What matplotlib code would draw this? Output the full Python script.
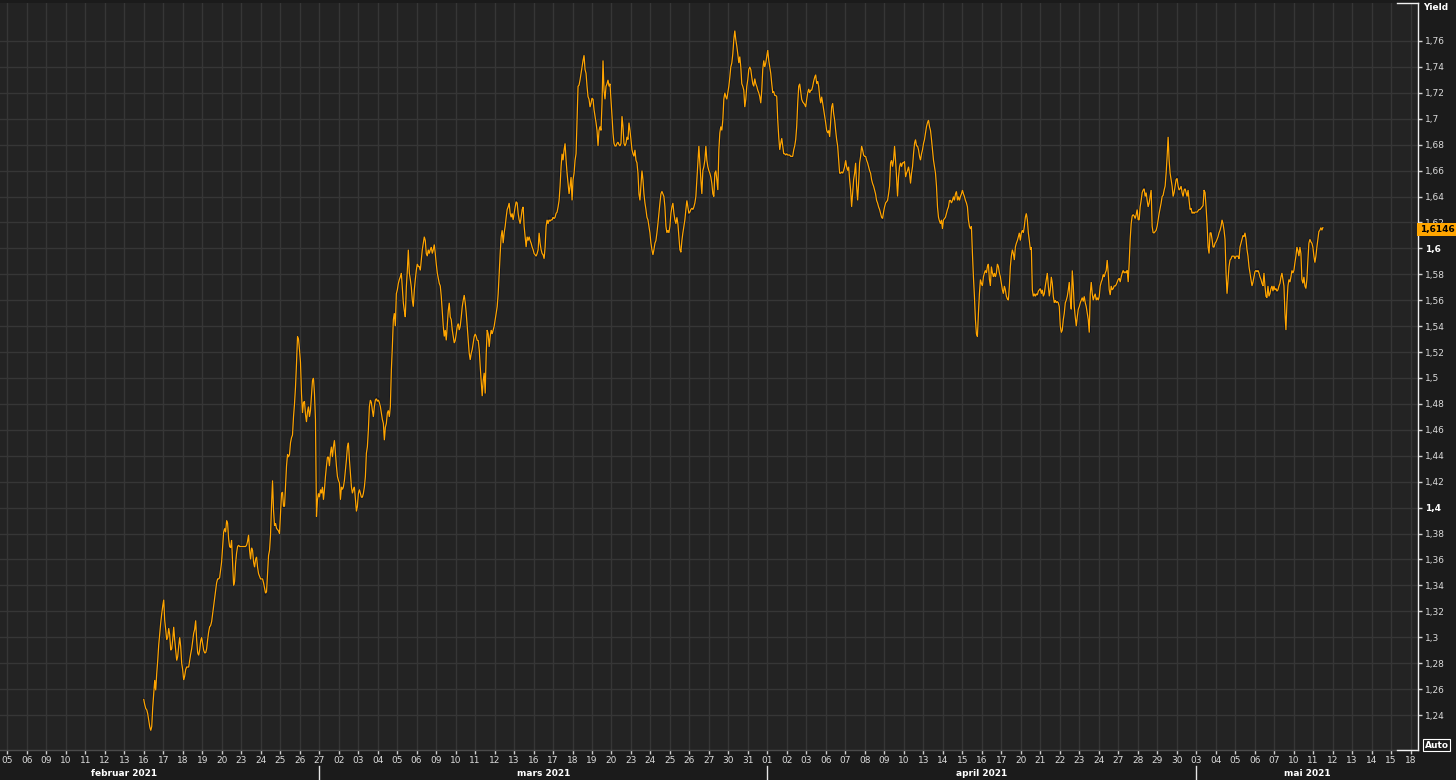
import numpy as np
import matplotlib
matplotlib.use("Agg")
from matplotlib import pyplot as plt
from matplotlib import patheffects as pe

# trading days shown on the x axis
day_labels = ["05", "06", "09", "10", "11", "12", "13", "16", "17", "18", "19", "20", "23", "24", "25", "26", "27",
              "02", "03", "04", "05", "06", "09", "10", "11", "12", "13", "16", "17", "18", "19", "20", "23", "24",
              "25", "26", "27", "30", "31",
              "01", "02", "03", "06", "07", "08", "09", "10", "13", "14", "15", "16", "17", "20", "21", "22", "23",
              "24", "27", "28", "29", "30",
              "03", "04", "05", "06", "07", "10", "11", "12", "13", "14", "15", "18"]
month_names = ["februar 2021", "mars 2021", "april 2021", "mai 2021"]
month_first_day = [16, 39, 61]          # index of the label where a new month starts
month_centres = [6.0, 27.5, 50.0, 66.7]

y_ticks = [1.24, 1.26, 1.28, 1.30, 1.32, 1.34, 1.36, 1.38, 1.40, 1.42, 1.44, 1.46, 1.48, 1.50,
           1.52, 1.54, 1.56, 1.58, 1.60, 1.62, 1.64, 1.66, 1.68, 1.70, 1.72, 1.74, 1.76]

# intraday yield, evenly sampled from 16 feb (day 7) to 11 mai (day 67.5)
start_day = 7.0
end_day = 67.5
yield_feb = [
    1.252, 1.248, 1.245, 1.244, 1.241, 1.236, 1.231, 1.228, 1.231, 1.246,
    1.257, 1.267, 1.259, 1.272, 1.282, 1.294, 1.303, 1.311, 1.318, 1.324,
    1.329, 1.313, 1.306, 1.298, 1.300, 1.307, 1.302, 1.290, 1.291, 1.298,
    1.308, 1.298, 1.290, 1.282, 1.285, 1.293, 1.300, 1.293, 1.280, 1.275,
    1.267, 1.270, 1.275, 1.277, 1.277, 1.277, 1.282, 1.287, 1.291, 1.297,
    1.303, 1.306, 1.313, 1.298, 1.288, 1.286, 1.290, 1.297, 1.300, 1.295,
    1.290, 1.288, 1.288, 1.291, 1.298, 1.304, 1.308, 1.309, 1.312, 1.318,
    1.324, 1.330, 1.336, 1.342, 1.345, 1.345, 1.346, 1.352, 1.358, 1.370,
    1.381, 1.384, 1.381, 1.390, 1.388, 1.376, 1.370, 1.369, 1.375, 1.357,
    1.340, 1.343, 1.357, 1.365, 1.370, 1.371, 1.370, 1.370, 1.370, 1.370,
    1.370, 1.370, 1.370, 1.371, 1.374, 1.379, 1.367, 1.360, 1.369, 1.367,
    1.358, 1.354, 1.360, 1.362, 1.354, 1.349, 1.347, 1.345, 1.345, 1.345,
    1.342, 1.338, 1.334, 1.335, 1.349, 1.363, 1.367, 1.379, 1.402, 1.421,
    1.398, 1.386, 1.388, 1.384, 1.383, 1.382, 1.380, 1.396, 1.411, 1.412,
    1.401, 1.401, 1.416, 1.432, 1.441, 1.439, 1.441, 1.450, 1.454, 1.456,
    1.470, 1.480, 1.493, 1.511, 1.532, 1.530, 1.522, 1.512, 1.488, 1.473,
    1.481, 1.482, 1.472, 1.466, 1.474, 1.478, 1.470, 1.475, 1.487, 1.498,
    1.500, 1.488, 1.468, 1.393, 1.406, 1.411, 1.408, 1.414, 1.411, 1.416,
    1.406, 1.414, 1.424, 1.432, 1.439, 1.439, 1.432, 1.442, 1.447, 1.439,
    1.447, 1.452, 1.442, 1.432, 1.424, 1.421, 1.419, 1.406, 1.416, 1.414,
    1.416, 1.421, 1.429, 1.437, 1.447, 1.450, 1.437, 1.426, 1.416, 1.411,
    1.414, 1.416, 1.406, 1.397, 1.401, 1.411, 1.414, 1.411, 1.408, 1.408,
    1.411, 1.416, 1.424, 1.442, 1.447, 1.460, 1.478, 1.483, 1.481, 1.475,
    1.470, 1.478, 1.483, 1.484, 1.482, 1.483, 1.481, 1.478, 1.473, 1.468,
    1.465, 1.452, 1.462, 1.465, 1.473, 1.475, 1.470, 1.478, 1.506, 1.524,
    1.545, 1.550, 1.540, 1.565, 1.568, 1.573, 1.576, 1.578, 1.581, 1.570,
    1.558, 1.552, 1.547, 1.570, 1.583, 1.599, 1.581, 1.576, 1.570, 1.560,
    1.555, 1.568, 1.576, 1.583, 1.588, 1.586, 1.586, 1.583, 1.591, 1.599,
    1.604, 1.609, 1.606, 1.596, 1.594, 1.599, 1.596, 1.599, 1.601, 1.596,
    1.599, 1.603, 1.596, 1.588, 1.581, 1.577, 1.573,
]
yield_mar = [
    1.571, 1.563, 1.552, 1.540, 1.532, 1.537, 1.529, 1.540, 1.552, 1.558,
    1.547, 1.545, 1.537, 1.532, 1.527, 1.529, 1.534, 1.540, 1.542, 1.537,
    1.540, 1.547, 1.555, 1.560, 1.564, 1.558, 1.550, 1.540, 1.529, 1.519,
    1.514, 1.519, 1.522, 1.527, 1.532, 1.534, 1.532, 1.529, 1.529, 1.522,
    1.509, 1.498, 1.486, 1.498, 1.504, 1.488, 1.519, 1.537, 1.534, 1.524,
    1.532, 1.537, 1.534, 1.537, 1.540, 1.545, 1.550, 1.555, 1.565, 1.581,
    1.596, 1.609, 1.614, 1.604, 1.612, 1.617, 1.624, 1.630, 1.632, 1.635,
    1.627, 1.624, 1.627, 1.622, 1.627, 1.632, 1.636, 1.635, 1.627, 1.622,
    1.619, 1.624, 1.630, 1.632, 1.617, 1.609, 1.601, 1.609, 1.606, 1.609,
    1.606, 1.604, 1.601, 1.599, 1.596, 1.595, 1.594, 1.596, 1.599, 1.612,
    1.604, 1.599, 1.596, 1.595, 1.592, 1.601, 1.617, 1.622, 1.619, 1.622,
    1.621, 1.622, 1.622, 1.624, 1.623, 1.624, 1.627, 1.628, 1.632, 1.637,
    1.648, 1.663, 1.673, 1.668, 1.676, 1.681, 1.668, 1.658, 1.650, 1.642,
    1.648, 1.655, 1.637, 1.653, 1.658, 1.668, 1.673, 1.699, 1.725, 1.726,
    1.730, 1.735, 1.740, 1.745, 1.749, 1.738, 1.735, 1.725, 1.717, 1.715,
    1.709, 1.712, 1.716, 1.715, 1.707, 1.702, 1.697, 1.691, 1.679, 1.691,
    1.694, 1.691, 1.712, 1.745, 1.722, 1.715, 1.725, 1.727, 1.730, 1.725,
    1.727, 1.715, 1.702, 1.689, 1.681, 1.679, 1.679, 1.681, 1.682, 1.680,
    1.679, 1.681, 1.702, 1.694, 1.681, 1.679, 1.681, 1.686, 1.684, 1.697,
    1.691, 1.684, 1.676, 1.673, 1.671, 1.676, 1.668, 1.666, 1.658, 1.642,
    1.637, 1.648, 1.660, 1.653, 1.642, 1.635, 1.630, 1.624, 1.622, 1.617,
    1.612, 1.604, 1.599, 1.595, 1.599, 1.604, 1.606, 1.612, 1.619, 1.627,
    1.635, 1.642, 1.644, 1.642, 1.640, 1.632, 1.617, 1.612, 1.614, 1.612,
    1.617, 1.627, 1.632, 1.635, 1.627, 1.622, 1.619, 1.624, 1.619, 1.609,
    1.599, 1.597, 1.606, 1.612, 1.617, 1.622, 1.630, 1.637, 1.632, 1.627,
    1.628, 1.630, 1.631, 1.630, 1.632, 1.635, 1.640, 1.653, 1.666, 1.679,
    1.666, 1.653, 1.642, 1.660, 1.663, 1.668, 1.679, 1.668, 1.663, 1.660,
    1.658, 1.655, 1.650, 1.642, 1.640, 1.658, 1.660, 1.653, 1.645, 1.676,
    1.689, 1.694, 1.691, 1.699, 1.715, 1.720, 1.717, 1.715, 1.720, 1.725,
    1.732, 1.740, 1.743, 1.750, 1.761, 1.768, 1.761, 1.756, 1.750, 1.743,
    1.748, 1.740, 1.727, 1.725, 1.722, 1.709, 1.715, 1.725, 1.730, 1.738,
    1.740, 1.738, 1.732, 1.727, 1.725, 1.731, 1.727, 1.725, 1.722, 1.720,
    1.717,
]
yield_apr = [
    1.712, 1.722, 1.738, 1.745, 1.740, 1.743, 1.748, 1.753, 1.745, 1.740,
    1.735, 1.727, 1.720, 1.721, 1.718, 1.718, 1.717, 1.699, 1.686, 1.676,
    1.681, 1.685, 1.679, 1.673, 1.673, 1.672, 1.673, 1.672, 1.672, 1.672,
    1.671, 1.671, 1.671, 1.676, 1.679, 1.684, 1.694, 1.712, 1.725, 1.727,
    1.721, 1.715, 1.713, 1.712, 1.711, 1.709, 1.715, 1.720, 1.723, 1.720,
    1.722, 1.722, 1.725, 1.729, 1.732, 1.734, 1.727, 1.729, 1.725, 1.717,
    1.712, 1.717, 1.712, 1.707, 1.702, 1.697, 1.691, 1.689, 1.691, 1.686,
    1.697, 1.709, 1.712, 1.704, 1.699, 1.691, 1.684, 1.679, 1.668, 1.658,
    1.658, 1.659, 1.658, 1.660, 1.663, 1.668, 1.663, 1.660, 1.663, 1.653,
    1.645, 1.632, 1.642, 1.653, 1.658, 1.666, 1.648, 1.637, 1.650, 1.666,
    1.671, 1.679, 1.676, 1.672, 1.671, 1.671, 1.668, 1.666, 1.663, 1.660,
    1.658, 1.653, 1.650, 1.648, 1.645, 1.642, 1.637, 1.635, 1.632, 1.630,
    1.627, 1.624, 1.623, 1.628, 1.632, 1.635, 1.636, 1.637, 1.642, 1.648,
    1.666, 1.668, 1.663, 1.668, 1.679, 1.668, 1.655, 1.640, 1.655, 1.663,
    1.666, 1.663, 1.666, 1.666, 1.667, 1.655, 1.658, 1.660, 1.663, 1.658,
    1.650, 1.658, 1.663, 1.673, 1.681, 1.684, 1.679, 1.679, 1.676, 1.671,
    1.668, 1.673, 1.676, 1.681, 1.684, 1.689, 1.694, 1.697, 1.699, 1.694,
    1.691, 1.684, 1.676, 1.668, 1.663, 1.658, 1.648, 1.632, 1.624, 1.621,
    1.619, 1.622, 1.615, 1.622, 1.623, 1.624, 1.627, 1.630, 1.632, 1.637,
    1.637, 1.635, 1.637, 1.640, 1.637, 1.642, 1.644, 1.637, 1.640, 1.637,
    1.640, 1.642, 1.645, 1.642, 1.640, 1.637, 1.635, 1.632, 1.622, 1.617,
    1.615, 1.617, 1.596, 1.578, 1.563, 1.545, 1.534, 1.532, 1.550, 1.565,
    1.576, 1.573, 1.571, 1.578, 1.581, 1.583, 1.581, 1.586, 1.588, 1.576,
    1.571, 1.586, 1.581, 1.578, 1.581, 1.578, 1.581, 1.588, 1.586, 1.581,
    1.578, 1.573, 1.568, 1.565, 1.571, 1.568, 1.563, 1.561, 1.560, 1.571,
    1.586, 1.594, 1.599, 1.596, 1.591, 1.601, 1.604, 1.606, 1.609, 1.612,
    1.606, 1.612, 1.614, 1.612, 1.617, 1.624, 1.627, 1.622, 1.612, 1.606,
    1.599, 1.601, 1.568, 1.563, 1.565, 1.563, 1.565, 1.564, 1.567, 1.568,
    1.569, 1.565, 1.568, 1.563, 1.565, 1.571, 1.576, 1.581, 1.571, 1.563,
    1.568, 1.578, 1.573, 1.563, 1.558, 1.560, 1.558, 1.559, 1.558,
]
yield_may = [
    1.555, 1.540, 1.535, 1.537, 1.545, 1.550, 1.558, 1.560, 1.563, 1.568,
    1.574, 1.560, 1.553, 1.583, 1.571, 1.555, 1.547, 1.540, 1.547, 1.553,
    1.555, 1.558, 1.560, 1.562, 1.559, 1.563, 1.558, 1.555, 1.550, 1.545,
    1.535, 1.565, 1.574, 1.565, 1.560, 1.563, 1.565, 1.560, 1.562, 1.560,
    1.563, 1.571, 1.574, 1.576, 1.580, 1.578, 1.581, 1.583, 1.591, 1.581,
    1.568, 1.564, 1.571, 1.568, 1.569, 1.571, 1.571, 1.572, 1.574, 1.576,
    1.577, 1.574, 1.578, 1.581, 1.583, 1.581, 1.582, 1.581, 1.583, 1.574,
    1.589, 1.607, 1.619, 1.625, 1.626, 1.625, 1.623, 1.626, 1.630, 1.622,
    1.622, 1.632, 1.637, 1.643, 1.645, 1.646, 1.640, 1.643, 1.637, 1.632,
    1.635, 1.640, 1.645, 1.617, 1.612, 1.612, 1.613, 1.614, 1.617, 1.622,
    1.627, 1.631, 1.635, 1.640, 1.641, 1.645, 1.648, 1.658, 1.671, 1.686,
    1.668, 1.658, 1.653, 1.648, 1.640, 1.643, 1.648, 1.653, 1.654, 1.648,
    1.645, 1.646, 1.648, 1.643, 1.640, 1.645, 1.646, 1.643, 1.640, 1.645,
    1.637, 1.630, 1.631, 1.627, 1.628, 1.627, 1.628, 1.628, 1.628, 1.629,
    1.630, 1.630, 1.631, 1.632, 1.633, 1.645, 1.643, 1.632, 1.619, 1.601,
    1.596, 1.612, 1.612, 1.607, 1.601, 1.601, 1.604, 1.605, 1.607, 1.609,
    1.612, 1.614, 1.617, 1.622, 1.619, 1.614, 1.607, 1.581, 1.565, 1.576,
    1.586, 1.591, 1.592, 1.594, 1.594, 1.594, 1.592, 1.594, 1.594, 1.594,
    1.592, 1.601, 1.604, 1.607, 1.610, 1.609, 1.612, 1.607, 1.599, 1.594,
    1.586, 1.581, 1.576, 1.571, 1.574, 1.578, 1.582, 1.583, 1.582, 1.583,
    1.581, 1.578, 1.576, 1.573, 1.571, 1.581, 1.571, 1.563, 1.562, 1.571,
    1.563, 1.565, 1.569, 1.571, 1.567, 1.571, 1.568, 1.569, 1.567, 1.568,
    1.571, 1.573, 1.578, 1.581, 1.576, 1.571, 1.550, 1.537, 1.558, 1.571,
    1.576, 1.574, 1.578, 1.583, 1.581, 1.583, 1.589, 1.594, 1.601, 1.598,
    1.594, 1.601, 1.596, 1.576, 1.573, 1.578, 1.571, 1.569, 1.576, 1.591,
    1.604, 1.607, 1.605, 1.604, 1.601, 1.594, 1.589, 1.594, 1.601, 1.607,
    1.613, 1.614, 1.616, 1.614, 1.616,
]
last_value = 1.6146

yield_pct = np.array(yield_feb + yield_mar + yield_apr + yield_may)
days = np.linspace(start_day, end_day, len(yield_pct))

W, H = 1456, 780
bg_outer = "#1b1b1b"
bg_plot = "#232323"
grid_col = "#363636"
text_col = "#dcdcdc"
orange = "#ffa500"

fig = plt.figure(figsize=(W / 100, H / 100), dpi=100, facecolor=bg_outer)
ax = fig.add_axes([0, 30 / H, 1417.5 / W, 747 / H], facecolor=bg_plot)

ax.plot(days, yield_pct, color=orange, lw=0.9, solid_joinstyle="miter",
        path_effects=[pe.Stroke(linewidth=1.9, foreground="#0c1120", alpha=0.8), pe.Normal()], zorder=3)

ax.set_xlim(-0.375, 72.355)
ax.set_ylim(1.2130, 1.7893)

# x axis: one tick per trading day
ax.set_xticks(range(len(day_labels)))
ax.set_xticklabels(day_labels, fontsize=6.5, color=text_col)
ax.tick_params(axis="x", direction="out", length=3, width=1, color="#cfcfcf", pad=1.5)

# y axis on the right, comma decimals
ax.yaxis.tick_right()
ax.set_yticks(y_ticks)
ax.set_yticklabels([f"{v:.2f}".rstrip("0").rstrip(".").replace(".", ",") for v in y_ticks],
                   fontsize=6.5, color=text_col)
ax.tick_params(axis="y", direction="out", length=3, width=1, color="#cfcfcf", pad=2.5)
for v, lab in zip(y_ticks, ax.get_yticklabels()):
    if round(v * 100) % 20 == 0:
        lab.set_fontweight("bold")
        lab.set_color("white")

ax.grid(True, color=grid_col, lw=1)
ax.set_axisbelow(True)

ax.spines["left"].set_visible(False)
ax.spines["top"].set_visible(False)
ax.spines["right"].set_color("#f0f0f0")
ax.spines["bottom"].set_color("#4a4a4a")
for s in ax.spines.values():
    s.set_linewidth(1)

# short white caps at both ends of the price axis
yt = ax.get_yaxis_transform()
for yy in [0.0, 1.0]:
    ax.plot([0.9855, 1.0], [yy, yy], color="#f0f0f0", lw=1, transform=ax.transAxes, clip_on=False, zorder=4)

# month separators and names under the day labels
xt = ax.get_xaxis_transform()
for d in month_first_day:
    ax.plot([d, d], [-0.0214, -0.045], color="#e6e6e6", lw=1, transform=xt, clip_on=False)
for c, name in zip(month_centres, month_names):
    ax.text(c, -0.0308, name, transform=xt, ha="center", va="center",
            fontsize=6.5, fontweight="bold", color="white")

# last value marker on the price axis
ax.text(1.0015, last_value, f"{last_value:.4f}".replace(".", ","), transform=yt,
        ha="left", va="center", fontsize=6.5, fontweight="bold", color="black", zorder=5,
        bbox=dict(boxstyle="square,pad=0.25", fc=orange, ec="none"))

fig.text(1423 / W, 1 - 8 / H, "Yield", ha="left", va="center", fontsize=6.5, fontweight="bold", color="white")
fig.text(1436.5 / W, 1 - 745 / H, "Auto", ha="center", va="center", fontsize=6.5, fontweight="bold",
         color="white", bbox=dict(boxstyle="square,pad=0.15", fc=bg_outer, ec="white", lw=0.8))

fig.savefig("out.png", dpi=100, facecolor=bg_outer)
